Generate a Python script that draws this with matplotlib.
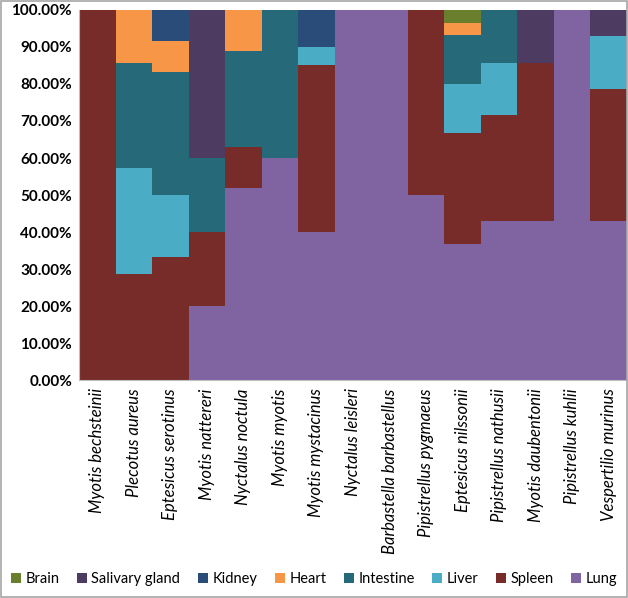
import numpy as np
import matplotlib.pyplot as plt
from matplotlib.patches import Rectangle
from matplotlib.ticker import FuncFormatter

# species along x
species = ['Myotis bechsteinii', 'Plecotus aureus', 'Eptesicus serotinus',
           'Myotis nattereri', 'Nyctalus noctula', 'Myotis myotis',
           'Myotis mystacinus', 'Nyctalus leisleri', 'Barbastella barbastellus',
           'Pipistrellus pygmaeus', 'Eptesicus nilssonii', 'Pipistrellus nathusii',
           'Myotis daubentonii', 'Pipistrellus kuhlii', 'Vespertilio murinus']

# proportions per organ (bottom to top of the stack)
lung      = [0, 0, 0, 0.20, 0.519, 0.60, 0.40, 1, 1, 0.50, 0.367, 0.429, 0.429, 1, 0.429]
spleen    = [1, 0.286, 0.333, 0.20, 0.111, 0, 0.45, 0, 0, 0.50, 0.30, 0.286, 0.429, 0, 0.357]
liver     = [0, 0.286, 0.167, 0, 0, 0, 0.05, 0, 0, 0, 0.133, 0.143, 0, 0, 0.143]
intestine = [0, 0.286, 0.333, 0.20, 0.259, 0.40, 0, 0, 0, 0, 0.133, 0.143, 0, 0, 0]
heart     = [0, 0.143, 0.083, 0, 0.111, 0, 0, 0, 0, 0, 0.033, 0, 0, 0, 0]
kidney    = [0, 0, 0.083, 0, 0, 0, 0.10, 0, 0, 0, 0, 0, 0, 0, 0]
salivary  = [0, 0, 0, 0.40, 0, 0, 0, 0, 0, 0, 0, 0, 0.143, 0, 0.071]
brain     = [0, 0, 0, 0, 0, 0, 0, 0, 0, 0, 0.033, 0, 0, 0, 0]

stack = [('Lung', lung, '#8064A2'),
         ('Spleen', spleen, '#772C2A'),
         ('Liver', liver, '#4BACC6'),
         ('Intestine', intestine, '#266A7A'),
         ('Heart', heart, '#F79646'),
         ('Kidney', kidney, '#2A4C78'),
         ('Salivary gland', salivary, '#4E3B62'),
         ('Brain', brain, '#6A7F2E')]

plt.rcParams['font.family'] = ['Lato', 'DejaVu Sans']

fig = plt.figure(figsize=(6.28, 5.98), dpi=100)
ax = fig.add_axes([0.1258, 0.3645, 0.8726, 0.6188])

x = np.arange(len(species))
bottom = np.zeros(len(species))
handles = {}
for name, vals, col in stack:
    vals = np.array(vals)
    b = ax.bar(x, vals, width=1.0, bottom=bottom, color=col, label=name,
               linewidth=0)
    handles[name] = b
    bottom += vals

ax.set_xlim(-0.5, len(species) - 0.5)
ax.set_ylim(0, 1)
ax.set_yticks(np.arange(0, 1.01, 0.1))
ax.yaxis.set_major_formatter(FuncFormatter(lambda v, p: f'{v*100:.2f}%'))
for t in ax.get_yticklabels():
    t.set_fontweight('bold')
    t.set_fontsize(11)
ax.tick_params(axis='y', length=0, pad=5)
ax.tick_params(axis='x', length=0, pad=6)
ax.set_xticks(x)
ax.set_xticklabels(species, rotation=90, fontstyle='italic', fontsize=12)
for s in ['top', 'right']:
    ax.spines[s].set_visible(False)
ax.spines['left'].set_color('#BFBFBF')
ax.spines['bottom'].set_color('#BFBFBF')

order = ['Brain', 'Salivary gland', 'Kidney', 'Heart', 'Intestine', 'Liver', 'Spleen', 'Lung']
fig.legend([handles[n] for n in order], order, loc='center', ncol=8,
           bbox_to_anchor=(0.5, 0.031), frameon=False, fontsize=10.5,
           handlelength=0.7, handleheight=0.7, handletextpad=0.3, columnspacing=1.2)

fig.patches.append(Rectangle((0.001, 0.002), 0.997, 0.996, transform=fig.transFigure,
                             fill=False, edgecolor='#A6A6A6', linewidth=1.2))

fig.savefig('out.png', dpi=100)
